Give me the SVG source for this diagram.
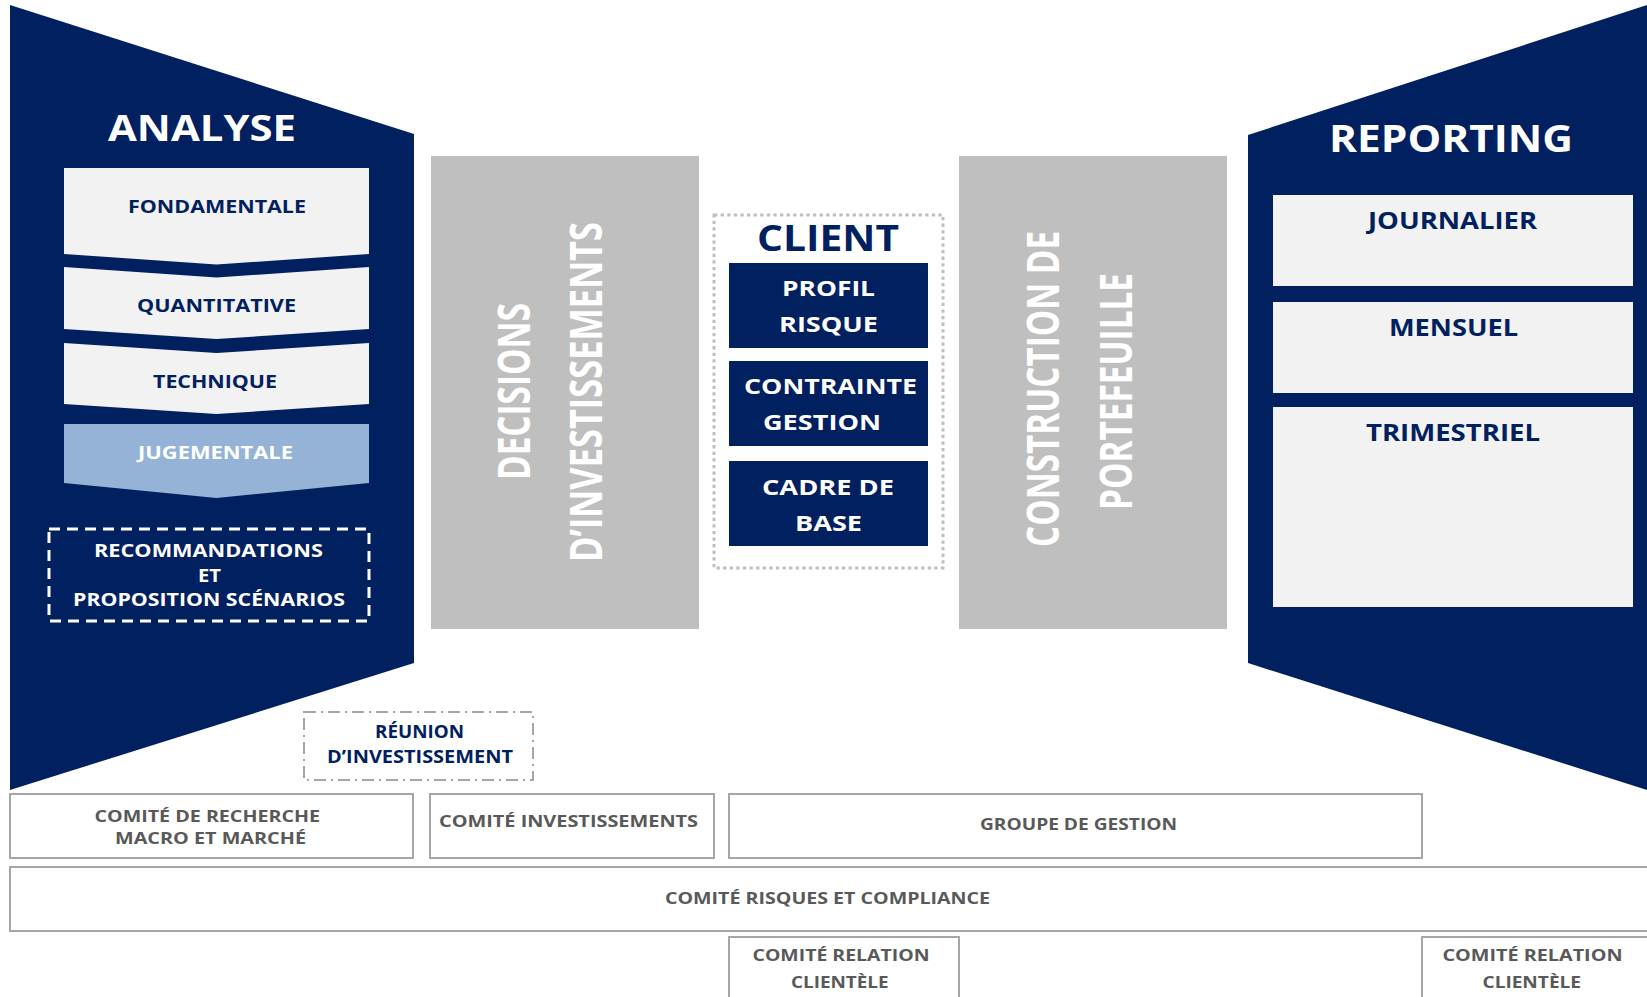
<svg xmlns="http://www.w3.org/2000/svg" width="1647" height="997" viewBox="0 0 1647 997">
<style>
text{font-family:"Open Sans","Liberation Sans",sans-serif;font-weight:700}
.navy{fill:#002060}
.light{fill:#F2F2F2}
.gray{fill:#BFBFBF}
.tn{fill:#002060;font-size:18px}
.tw{fill:#FFFFFF}
.big{font-size:36px}
.rot{fill:#FFFFFF;font-size:44px;font-weight:700}
.cb{fill:#FFFFFF;font-size:22px}
.rep{fill:#002060;font-size:23px}
.bx{fill:#FFFFFF;stroke:#A6A6A6;stroke-width:2}
.bt{fill:#595959;font-size:16px}
</style>
<rect width="1647" height="997" fill="#FFFFFF"/>

<g id="analyse">
<polygon class="navy" points="10,5 414,134 414,663 10,790"/>
<text class="tw big" x="108" y="141" textLength="188" lengthAdjust="spacingAndGlyphs" style="font-size:35px">ANALYSE</text>
</g>
<g id="fondamentale">
<path class="light" d="M64,168 H369 V254 L216.5,264.5 L64,254 Z"/>
<text class="tn" x="128" y="213" textLength="178" lengthAdjust="spacingAndGlyphs">FONDAMENTALE</text>
</g>
<g id="quantitative">
<path class="light" d="M64,267 L216.5,277.5 L369,267 V329 L216.5,339 L64,329 Z"/>
<text class="tn" x="137" y="312" textLength="159" lengthAdjust="spacingAndGlyphs">QUANTITATIVE</text>
</g>
<g id="technique">
<path class="light" d="M64,343 L216.5,353 L369,343 V404 L216.5,414 L64,404 Z"/>
<text class="tn" x="153" y="388" textLength="124" lengthAdjust="spacingAndGlyphs">TECHNIQUE</text>
</g>
<g id="jugementale">
<path fill="#95B3D7" d="M64,424 H369 V483 L216.5,498 L64,483 Z"/>
<text class="tw" style="font-size:18px" x="138" y="459" textLength="155" lengthAdjust="spacingAndGlyphs">JUGEMENTALE</text>
</g>
<g id="recommandations">
<rect x="49" y="529" width="320" height="92" fill="none" stroke="#FFFFFF" stroke-width="3" stroke-dasharray="11 7"/>
<text class="tw" style="font-size:18.5px" x="94" y="557" textLength="229" lengthAdjust="spacingAndGlyphs">RECOMMANDATIONS</text>
<text class="tw" style="font-size:18.5px" x="198" y="582" textLength="23" lengthAdjust="spacingAndGlyphs">ET</text>
<text class="tw" style="font-size:18.5px" x="73" y="606" textLength="272" lengthAdjust="spacingAndGlyphs">PROPOSITION SCÉNARIOS</text>
</g>
<g id="reunion">
<rect x="304" y="712" width="229" height="68" fill="none" stroke="#A6A6A6" stroke-width="2" stroke-dasharray="12 5 2 5"/>
<text class="tn" style="font-size:17px" x="375" y="738" textLength="89" lengthAdjust="spacingAndGlyphs">RÉUNION</text>
<text class="tn" style="font-size:17px" x="327" y="763" textLength="186" lengthAdjust="spacingAndGlyphs">D’INVESTISSEMENT</text>
</g>

<g id="decisions">
<rect class="gray" x="431" y="156" width="268" height="473"/>
<text class="rot" transform="translate(530,480) rotate(-90)" textLength="177" lengthAdjust="spacingAndGlyphs">DECISIONS</text>
<text class="rot" transform="translate(602,562) rotate(-90)" textLength="340" lengthAdjust="spacingAndGlyphs">D’INVESTISSEMENTS</text>
</g>

<g id="client">
<rect x="714" y="215" width="229" height="353" fill="none" stroke="#BFBFBF" stroke-width="3" stroke-dasharray="3.3 3.3"/>
<text class="tn big" x="757" y="251" textLength="142" lengthAdjust="spacingAndGlyphs">CLIENT</text>
</g>
<g id="profil-risque">
<rect class="navy" x="729" y="263" width="199" height="85"/>
<text class="cb" x="782" y="296" textLength="93" lengthAdjust="spacingAndGlyphs">PROFIL</text>
<text class="cb" x="779" y="332" textLength="99" lengthAdjust="spacingAndGlyphs">RISQUE</text>
</g>
<g id="contrainte-gestion">
<rect class="navy" x="729" y="361" width="199" height="85"/>
<text class="cb" x="744" y="394" textLength="173" lengthAdjust="spacingAndGlyphs">CONTRAINTE</text>
<text class="cb" x="763" y="430" textLength="118" lengthAdjust="spacingAndGlyphs">GESTION</text>
</g>
<g id="cadre-de-base">
<rect class="navy" x="729" y="461" width="199" height="85"/>
<text class="cb" x="762" y="495" textLength="132" lengthAdjust="spacingAndGlyphs">CADRE DE</text>
<text class="cb" x="795" y="531" textLength="67" lengthAdjust="spacingAndGlyphs">BASE</text>
</g>

<g id="construction">
<rect class="gray" x="959" y="156" width="268" height="473"/>
<text class="rot" transform="translate(1059,547) rotate(-90)" textLength="316" lengthAdjust="spacingAndGlyphs">CONSTRUCTION DE</text>
<text class="rot" transform="translate(1132,510) rotate(-90)" textLength="237" lengthAdjust="spacingAndGlyphs">PORTEFEUILLE</text>
</g>

<g id="reporting">
<polygon class="navy" points="1248,135 1647,5 1647,790 1248,663"/>
<text class="tw" style="font-size:37px" x="1329" y="152" textLength="244" lengthAdjust="spacingAndGlyphs">REPORTING</text>
</g>
<g id="journalier">
<rect class="light" x="1273" y="195" width="360" height="91"/>
<text class="rep" x="1368" y="229" textLength="169" lengthAdjust="spacingAndGlyphs">JOURNALIER</text>
</g>
<g id="mensuel">
<rect class="light" x="1273" y="302" width="360" height="91"/>
<text class="rep" x="1389" y="336" textLength="129" lengthAdjust="spacingAndGlyphs">MENSUEL</text>
</g>
<g id="trimestriel">
<rect class="light" x="1273" y="407" width="360" height="200"/>
<text class="rep" x="1366" y="441" textLength="174" lengthAdjust="spacingAndGlyphs">TRIMESTRIEL</text>
</g>

<g id="comite-recherche">
<rect class="bx" x="10" y="794" width="403" height="64"/>
<text class="bt" x="94.5" y="822" textLength="225.5" lengthAdjust="spacingAndGlyphs">COMITÉ DE RECHERCHE</text>
<text class="bt" x="115" y="844" textLength="191" lengthAdjust="spacingAndGlyphs">MACRO ET MARCHÉ</text>
</g>
<g id="comite-investissements">
<rect class="bx" x="430" y="794" width="284" height="64"/>
<text class="bt" x="439" y="827" textLength="259" lengthAdjust="spacingAndGlyphs">COMITÉ INVESTISSEMENTS</text>
</g>
<g id="groupe-gestion">
<rect class="bx" x="729" y="794" width="693" height="64"/>
<text class="bt" x="980" y="830" textLength="197" lengthAdjust="spacingAndGlyphs">GROUPE DE GESTION</text>
</g>
<g id="comite-risques">
<rect class="bx" x="10" y="867" width="1660" height="64"/>
<text class="bt" x="665" y="904" textLength="325" lengthAdjust="spacingAndGlyphs">COMITÉ RISQUES ET COMPLIANCE</text>
</g>
<g id="relation-clientele-1">
<rect class="bx" x="729" y="937" width="230" height="80"/>
<text class="bt" x="752.5" y="961" textLength="177" lengthAdjust="spacingAndGlyphs">COMITÉ RELATION</text>
<text class="bt" x="791" y="988" textLength="97.5" lengthAdjust="spacingAndGlyphs">CLIENTÈLE</text>
</g>
<g id="relation-clientele-2">
<rect class="bx" x="1422" y="937" width="260" height="80"/>
<text class="bt" x="1442.5" y="961" textLength="180" lengthAdjust="spacingAndGlyphs">COMITÉ RELATION</text>
<text class="bt" x="1482.5" y="988" textLength="98.5" lengthAdjust="spacingAndGlyphs">CLIENTÈLE</text>
</g>

<g id="connectors"/>
</svg>
